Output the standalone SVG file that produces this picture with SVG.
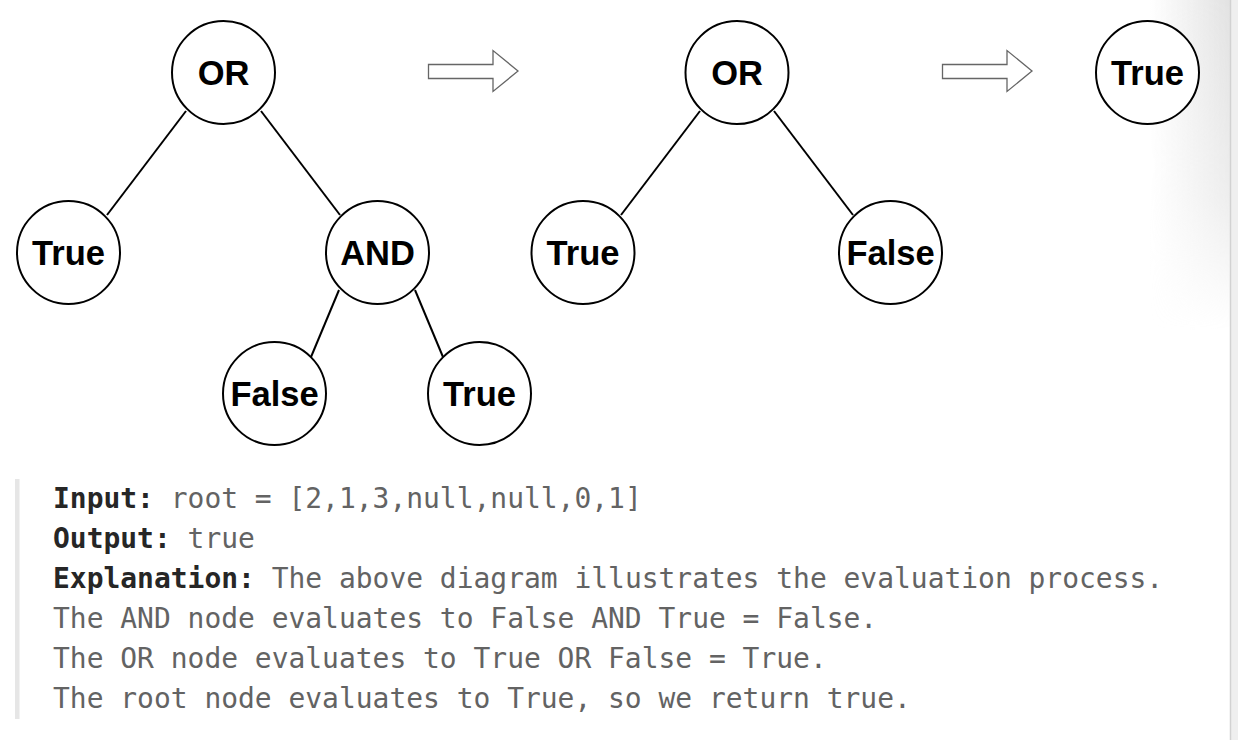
<svg xmlns="http://www.w3.org/2000/svg" width="1238" height="740" viewBox="0 0 1238 740">
  <defs>
    <style>
      .node circle { fill: #ffffff; stroke: #000000; stroke-width: 2; }
      .node text { font-family: "Liberation Sans", Arial, sans-serif; font-weight: bold; font-size: 34.5px; fill: #000000; text-anchor: middle; }
      .edge { stroke: #000000; stroke-width: 2; fill: none; }
      .step { fill: #ffffff; stroke: #666666; stroke-width: 1.3; stroke-linejoin: miter; }
      .code { font-family: "DejaVu Sans Mono", "Liberation Mono", monospace; font-size: 27.95px; fill: #636363; }
      .code .b { font-weight: bold; fill: #262626; }
    </style>
    <linearGradient id="shadeH" x1="1150" y1="0" x2="1230" y2="0" gradientUnits="userSpaceOnUse">
      <stop offset="0" stop-color="#e2e2e2" stop-opacity="0"/>
      <stop offset="1" stop-color="#e2e2e2" stop-opacity="1"/>
    </linearGradient>
    <linearGradient id="fadeV" x1="0" y1="0" x2="0" y2="330" gradientUnits="userSpaceOnUse">
      <stop offset="0" stop-color="#ffffff"/>
      <stop offset="0.6" stop-color="#ffffff" stop-opacity="0.6"/>
      <stop offset="1" stop-color="#ffffff" stop-opacity="0"/>
    </linearGradient>
    <mask id="fadeMask" maskUnits="userSpaceOnUse" x="1140" y="0" width="100" height="340">
      <rect x="1140" y="0" width="100" height="340" fill="url(#fadeV)"/>
    </mask>
  </defs>

  <rect x="0" y="0" width="1238" height="740" fill="#ffffff"/>

  <!-- right edge shading / scrollbar -->
  <rect x="1150" y="0" width="80" height="330" fill="url(#shadeH)" mask="url(#fadeMask)"/>
  <rect x="1230" y="0" width="8" height="740" fill="#efefef"/>
  <line x1="1230.5" y1="0" x2="1230.5" y2="740" stroke="#d2d2d2" stroke-width="1.5"/>

  <!-- connectors -->
  <g id="connectors">
    <line class="edge" x1="186" y1="111" x2="107" y2="215"/>
    <line class="edge" x1="261" y1="111" x2="340" y2="215"/>
    <line class="edge" x1="339" y1="290" x2="311" y2="357"/>
    <line class="edge" x1="415" y1="290" x2="443" y2="357"/>
    <line class="edge" x1="700" y1="111" x2="621" y2="215"/>
    <line class="edge" x1="774" y1="111" x2="853" y2="215"/>
  </g>

  <!-- step arrows -->
  <g id="arrow1">
    <path class="step" d="M428.5,64.5 H493 V50.5 L518,71 L493,91.5 V78.5 H428.5 Z"/>
  </g>
  <g id="arrow2">
    <path class="step" d="M942.5,64.5 H1007 V50.5 L1032,71 L1007,91.5 V78.5 H942.5 Z"/>
  </g>

  <!-- tree 1 -->
  <g id="t1-or" class="node"><circle cx="223.5" cy="72.5" r="51.5"/><text x="223.5" y="85">OR</text></g>
  <g id="t1-true" class="node"><circle cx="68.5" cy="252.5" r="51.5"/><text x="68.5" y="265">True</text></g>
  <g id="t1-and" class="node"><circle cx="377.5" cy="252.5" r="51.5"/><text x="377.5" y="265">AND</text></g>
  <g id="t1-false" class="node"><circle cx="274.5" cy="393.5" r="51.5"/><text x="274.5" y="406">False</text></g>
  <g id="t1-true2" class="node"><circle cx="479.5" cy="393.5" r="51.5"/><text x="479.5" y="406">True</text></g>

  <!-- tree 2 -->
  <g id="t2-or" class="node"><circle cx="737" cy="72.5" r="51.5"/><text x="737" y="85">OR</text></g>
  <g id="t2-true" class="node"><circle cx="583" cy="252.5" r="51.5"/><text x="583" y="265">True</text></g>
  <g id="t2-false" class="node"><circle cx="890.5" cy="252.5" r="51.5"/><text x="890.5" y="265">False</text></g>

  <!-- result -->
  <g id="t3-true" class="node"><circle cx="1147.5" cy="72.5" r="51.5"/><text x="1147.5" y="85">True</text></g>

  <!-- explanation block -->
  <rect x="15" y="479" width="4.5" height="240" fill="#e6e6e6"/>
  <g id="explanation" class="code">
    <text x="53" y="508"><tspan class="b">Input:</tspan> root = [2,1,3,null,null,0,1]</text>
    <text x="53" y="548"><tspan class="b">Output:</tspan> true</text>
    <text x="53" y="588"><tspan class="b">Explanation:</tspan> The above diagram illustrates the evaluation process.</text>
    <text x="53" y="628">The AND node evaluates to False AND True = False.</text>
    <text x="53" y="668">The OR node evaluates to True OR False = True.</text>
    <text x="53" y="708">The root node evaluates to True, so we return true.</text>
  </g>
</svg>
